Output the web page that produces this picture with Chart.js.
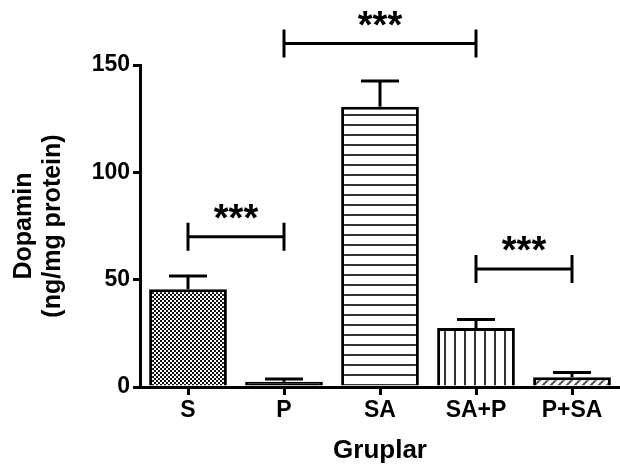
<!DOCTYPE html>
<html>
<head>
<meta charset="utf-8">
<script src="https://cdn.jsdelivr.net/npm/chart.js@4.4.1/dist/chart.umd.min.js"></script>
<style>
  body { margin: 0; background: #fff; }
  canvas { display: block; }
</style>
</head>
<body>
<canvas id="dopaChart" width="620" height="470"></canvas>
<script>
const categories = ['S', 'P', 'SA', 'SA+P', 'P+SA'];
const means = [45.5, 2.5, 130.5, 27.5, 4.5];
const errors = [6.2, 1.2, 12, 4, 2.2];
const yTicks = [0, 50, 100, 150];

// significance brackets
const bracketFrom = [0, 1, 3];
const bracketTo = [1, 3, 4];
const bracketLevel = [70, 160, 55];
const bracketLabel = ['***', '***', '***'];

const FONT = "Arial, 'Liberation Sans', sans-serif";

function makePattern(size, draw) {
    const c = document.createElement('canvas');
    c.width = size; c.height = size;
    const g = c.getContext('2d');
    g.fillStyle = '#fff';
    g.fillRect(0, 0, size, size);
    draw(g);
    return document.getElementById('dopaChart').getContext('2d').createPattern(c, 'repeat');
}

const checker = makePattern(4, g => {
    g.fillStyle = '#111';
    g.fillRect(0, 0, 2, 2);
    g.fillRect(2, 2, 2, 2);
});
const horiz = makePattern(10, g => {
    g.fillStyle = '#333';
    g.fillRect(0, 4, 10, 2);
});
const vert = makePattern(10, g => {
    g.fillStyle = '#333';
    g.fillRect(4, 0, 2, 10);
});
const diag = makePattern(8, g => {
    g.strokeStyle = '#555';
    g.lineWidth = 2;
    g.beginPath();
    g.moveTo(-2, 10); g.lineTo(10, -2);
    g.moveTo(-2, 2); g.lineTo(2, -2);
    g.moveTo(6, 10); g.lineTo(10, 6);
    g.stroke();
});
const fills = [checker, '#000', horiz, vert, diag];

const extras = {
    id: 'extras',
    afterDatasetsDraw(chart) {
        const ctx = chart.ctx;
        const y = chart.scales.y;
        const x = chart.scales.x;
        const meta = chart.getDatasetMeta(0);
        ctx.save();
        ctx.strokeStyle = '#000';
        ctx.lineWidth = 3;
        // error bars (upper only)
        meta.data.forEach((bar, i) => {
            const top = y.getPixelForValue(means[i]);
            const e = y.getPixelForValue(means[i] + errors[i]);
            ctx.beginPath();
            ctx.moveTo(bar.x, top);
            ctx.lineTo(bar.x, e);
            ctx.moveTo(bar.x - 19, e);
            ctx.lineTo(bar.x + 19, e);
            ctx.stroke();
        });
        // brackets
        ctx.fillStyle = '#000';
        ctx.font = 'bold 38px ' + FONT;
        ctx.textAlign = 'center';
        ctx.textBaseline = 'middle';
        bracketFrom.forEach((f, k) => {
            const x1 = x.getPixelForValue(f);
            const x2 = x.getPixelForValue(bracketTo[k]);
            const yy = y.getPixelForValue(bracketLevel[k]);
            ctx.beginPath();
            ctx.moveTo(x1, yy); ctx.lineTo(x2, yy);
            ctx.moveTo(x1, yy - 14); ctx.lineTo(x1, yy + 14);
            ctx.moveTo(x2, yy - 14); ctx.lineTo(x2, yy + 14);
            ctx.stroke();
            ctx.fillText(bracketLabel[k], (x1 + x2) / 2, yy - 16);
        });
        ctx.restore();
    }
};

new Chart(document.getElementById('dopaChart'), {
    type: 'bar',
    data: {
        labels: categories,
        datasets: [{
            data: means,
            backgroundColor: fills,
            borderColor: '#000',
            borderWidth: 3,
            categoryPercentage: 1,
            barPercentage: 0.81
        }]
    },
    options: {
        responsive: false,
        animation: false,
        layout: { padding: { top: 65, right: 0, left: 10, bottom: 0 } },
        plugins: {
            legend: { display: false },
            tooltip: { enabled: false }
        },
        scales: {
            x: {
                afterFit: s => { s.height = 83; },
                border: { display: true, color: '#000', width: 3 },
                grid: { offset: false, drawOnChartArea: false, color: '#000', lineWidth: 3, tickLength: 8 },
                ticks: { color: '#000', font: { family: FONT, size: 23, weight: 'bold' }, padding: 2 },
                title: { display: true, text: 'Gruplar', color: '#000', font: { family: FONT, size: 26, weight: 'bold' }, padding: { top: 4 } }
            },
            y: {
                min: 0,
                max: 150,
                afterFit: s => { s.width = 130; },
                afterBuildTicks: s => { s.ticks = yTicks.map(v => ({ value: v })); },
                border: { display: true, color: '#000', width: 3 },
                grid: { drawOnChartArea: false, color: '#000', lineWidth: 3, tickLength: 7 },
                ticks: { color: '#000', font: { family: FONT, size: 23, weight: 'bold' }, padding: 3 },
                title: { display: true, text: ['Dopamin', '(ng/mg protein)'], color: '#000', font: { family: FONT, size: 25, weight: 'bold', lineHeight: 1.15 }, padding: { top: 0, bottom: 0 } }
            }
        }
    },
    plugins: [extras]
});
</script>
</body>
</html>
